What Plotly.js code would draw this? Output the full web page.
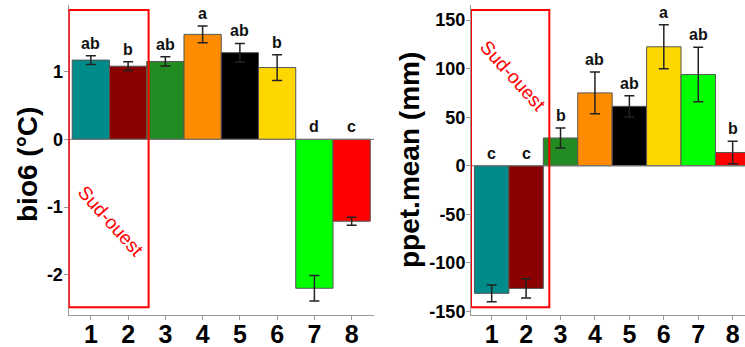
<!DOCTYPE html>
<html>
<head>
<meta charset="utf-8">
<script src="https://cdn.plot.ly/plotly-3.0.1.min.js"></script>
<style>html,body{margin:0;padding:0;overflow:hidden;background:#fff}</style>
</head>
<body>
<div id="chart" style="width:745px;height:347px"></div>
<script>
const groups = [1, 2, 3, 4, 5, 6, 7, 8];
const colors = ['#008B8B', '#8B0000', '#228B22', '#FF8C00', '#000000', '#FFD700', '#00FF00', '#FF0000'];

const bio6Mean = [1.17, 1.08, 1.15, 1.55, 1.28, 1.06, -2.20, -1.21];
const bio6Err = [0.065, 0.065, 0.068, 0.125, 0.137, 0.19, 0.19, 0.06];
const bio6Letters = ['ab', 'b', 'ab', 'a', 'ab', 'b', 'd', 'c'];

const ppetMean = [-131.3, -126.2, 28.6, 75.0, 61.2, 122.5, 93.9, 13.7];
const ppetErr = [8.6, 10.0, 10.3, 21.5, 11.0, 22.7, 28.0, 11.5];
const ppetLetters = ['c', 'c', 'b', 'ab', 'ab', 'a', 'ab', 'b'];

function barTrace(y, err, xa, ya) {
  return {
    type: 'bar', x: groups, y: y, xaxis: xa, yaxis: ya, width: 1,
    marker: {color: colors, line: {color: '#555', width: 1}},
    error_y: {type: 'data', array: err, visible: true, color: '#222', thickness: 1.5, width: 5},
    hoverinfo: 'skip', showlegend: false
  };
}

function letterAnns(y, err, letters, xr, yr) {
  return letters.map((t, i) => ({
    xref: xr, yref: yr, x: groups[i], y: y[i] > 0 ? y[i] + err[i] : 0,
    text: t, showarrow: false, yanchor: 'bottom', yshift: 2,
    font: {family: 'Arial', size: 16, color: '#111', weight: 'bold'}
  }));
}

const W = 745, H = 347;
const yDom = [(H - 315) / H, (H - 5) / H];

const axisCommon = {
  showline: true, linecolor: '#999', linewidth: 1, ticks: 'outside', ticklen: 4,
  tickcolor: '#999', showgrid: false, zeroline: false, fixedrange: true
};

const layout = {
  width: W, height: H,
  margin: {l: 0, r: 0, t: 0, b: 0},
  paper_bgcolor: '#fff', plot_bgcolor: '#fff',
  bargap: 0,
  xaxis: Object.assign({}, axisCommon, {
    domain: [68.5 / W, 374 / W], range: [0.4, 8.6], anchor: 'y',
    tickvals: groups, ticktext: groups.map(String), ticklabelstandoff: -7,
    tickfont: {family: 'Arial', size: 25, color: '#000', weight: 'bold'}
  }),
  yaxis: Object.assign({}, axisCommon, {
    domain: yDom, range: [-2.595, 1.984], anchor: 'x',
    tickvals: [-2, -1, 0, 1], ticktext: ['-2', '-1', '0', '1'], ticklabelstandoff: -3,
    tickfont: {family: 'Arial', size: 18, color: '#000', weight: 'bold'}
  }),
  xaxis2: Object.assign({}, axisCommon, {
    domain: [471 / W, 1], range: [0.4, 8.358], anchor: 'y2',
    tickvals: groups, ticktext: groups.map(String), ticklabelstandoff: -7,
    tickfont: {family: 'Arial', size: 25, color: '#000', weight: 'bold'}
  }),
  yaxis2: Object.assign({}, axisCommon, {
    domain: yDom, range: [-153.6, 165.5], anchor: 'x2',
    tickvals: [-150, -100, -50, 0, 50, 100, 150],
    ticktext: ['-150', '-100', '-50', '0', '50', '100', '150'], ticklabelstandoff: -3,
    tickfont: {family: 'Arial', size: 18, color: '#000', weight: 'bold'}
  }),
  shapes: [
    {type: 'line', xref: 'x', yref: 'y', x0: 0.4, x1: 8.6, y0: 0, y1: 0, line: {color: '#777', width: 1}, layer: 'above'},
    {type: 'line', xref: 'x2', yref: 'y2', x0: 0.4, x1: 8.6, y0: 0, y1: 0, line: {color: '#777', width: 1}, layer: 'above'},
    {type: 'rect', xref: 'x', yref: 'y', x0: 0.41, x1: 2.55, y0: -2.48, y1: 1.91, line: {color: '#FF0000', width: 2}, layer: 'above'},
    {type: 'rect', xref: 'x2', yref: 'y2', x0: 0.40, x1: 2.675, y0: -145.7, y1: 160.4, line: {color: '#FF0000', width: 2}, layer: 'above'}
  ],
  annotations: [].concat(
    letterAnns(bio6Mean, bio6Err, bio6Letters, 'x', 'y'),
    letterAnns(ppetMean, ppetErr, ppetLetters, 'x2', 'y2'),
    [
      {xref: 'paper', yref: 'paper', x: 27 / W, y: 1 - 165 / H, text: 'bio6 (°C)', textangle: -90,
        showarrow: false, xanchor: 'center', yanchor: 'middle',
        font: {family: 'Arial', size: 28, color: '#000', weight: 'bold'}},
      {xref: 'paper', yref: 'paper', x: 409 / W, y: 1 - 160 / H, text: 'ppet.mean (mm)', textangle: -90,
        showarrow: false, xanchor: 'center', yanchor: 'middle',
        font: {family: 'Arial', size: 28, color: '#000', weight: 'bold'}},
      {xref: 'paper', yref: 'paper', x: 110 / W, y: 1 - 221 / H, text: 'Sud-ouest', textangle: 48,
        showarrow: false, xanchor: 'center', yanchor: 'middle',
        font: {family: 'Arial', size: 19, color: '#FF0000'}},
      {xref: 'paper', yref: 'paper', x: 513 / W, y: 1 - 75 / H, text: 'Sud-ouest', textangle: 48,
        showarrow: false, xanchor: 'center', yanchor: 'middle',
        font: {family: 'Arial', size: 19, color: '#FF0000'}}
    ]
  )
};

Plotly.newPlot('chart', [
  barTrace(bio6Mean, bio6Err, 'x', 'y'),
  barTrace(ppetMean, ppetErr, 'x2', 'y2')
], layout, {displayModeBar: false, staticPlot: true});
</script>
</body>
</html>
